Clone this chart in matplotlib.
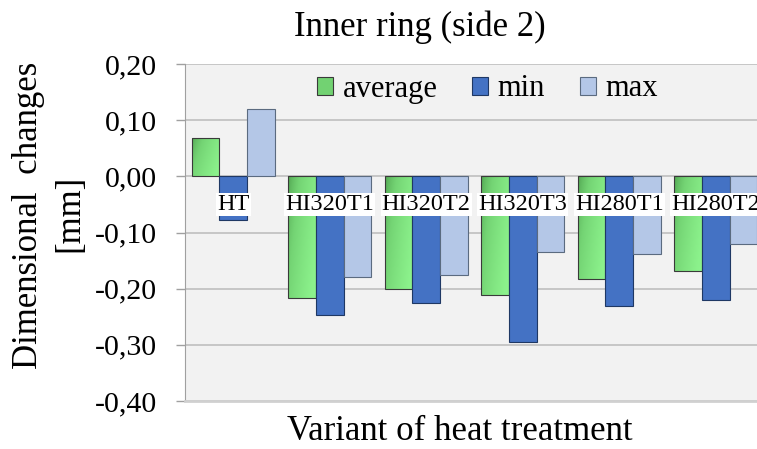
import matplotlib.pyplot as plt
import numpy as np
from matplotlib.colors import LinearSegmentedColormap
from matplotlib.patches import Patch

categories = ['HT', 'HI320T1', 'HI320T2', 'HI320T3', 'HI280T1', 'HI280T2']
average = [0.068, -0.216, -0.201, -0.211, -0.182, -0.168]
minimum = [-0.078, -0.246, -0.225, -0.295, -0.230, -0.220]
maximum = [0.120, -0.180, -0.175, -0.134, -0.139, -0.120]
yticks = [0.20, 0.10, 0.00, -0.10, -0.20, -0.30, -0.40]

plt.rcParams['font.family'] = ['Liberation Serif', 'DejaVu Serif']

fig = plt.figure(figsize=(7.57, 4.49), dpi=100)
# plot area runs a bit past the right edge, like in the original
ax = fig.add_axes([185/757, 48/449, 579/757, 337/449])
ax.set_facecolor('#f2f2f2')

x = np.arange(len(categories))
w = 0.285

bars_avg = ax.bar(x - w, average, w, facecolor='none', edgecolor='#3a3a3a', linewidth=0.8, zorder=3)
ax.bar(x, minimum, w, color='#4472c4', edgecolor='#1f3864', linewidth=0.8, zorder=3)
ax.bar(x + w, maximum, w, color='#b4c7e7', edgecolor='#5b6b80', linewidth=0.8, zorder=3)

# green gradient fill (dark top-left -> light right)
cmap = LinearSegmentedColormap.from_list('grn', ['#4c9e4c', '#74d474', '#8cf28c'])
for b in bars_avg:
    x0, y0, bw, bh = b.get_x(), b.get_y(), b.get_width(), b.get_height()
    u = np.linspace(0, 1, 60)[None, :]
    v = np.linspace(0, 1, 60)[:, None]
    grad = np.clip(0.75 * u + 0.35 * v, 0, 1) ** 0.6
    im = ax.imshow(grad, extent=(x0, x0 + bw, min(y0, y0 + bh), max(y0, y0 + bh)),
                   origin='upper', cmap=cmap, aspect='auto', zorder=2.9, vmin=0, vmax=1)
    im.set_clip_path(b)

for i, cat in enumerate(categories):
    ax.text(i, -0.0498, cat, ha='center', va='center', fontsize=17.5, zorder=5,
            bbox=dict(boxstyle='square,pad=0.05', fc='white', ec='none'))

ax.set_xlim(-0.5, 5.5)
ax.set_ylim(-0.40, 0.20)
ax.set_yticks(yticks)
ax.set_yticklabels([f'{v:.2f}'.replace('.', ',') for v in yticks], fontsize=21.5)
ax.set_xticks([])
ax.tick_params(axis='y', length=6.5, width=1, color='#a0a0a0', pad=13.5)
ax.yaxis.grid(True, color='#bfbfbf', linewidth=1.2)
ax.set_axisbelow(True)

ax.spines['top'].set_visible(False)
ax.spines['right'].set_visible(False)
ax.spines['left'].set_color('#a0a0a0')
ax.spines['bottom'].set_color('#d0d0d0')
ax.spines['bottom'].set_linewidth(2)

handles = [Patch(facecolor='#72d272', edgecolor='#3a3a3a', linewidth=0.8),
           Patch(facecolor='#4472c4', edgecolor='#1f3864', linewidth=0.8),
           Patch(facecolor='#b4c7e7', edgecolor='#5b6b80', linewidth=0.8)]
ax.legend(handles, ['average', 'min', 'max'], ncol=3, loc='center',
          bbox_to_anchor=(487.5/757, 1 - 89/449), bbox_transform=fig.transFigure,
          frameon=False, fontsize=22, handlelength=0.52, handleheight=0.52,
          handletextpad=0.3, columnspacing=1.15, borderpad=0)

fig.text(420/757, 1 - 27/449, 'Inner ring (side 2)', ha='center', va='center', fontsize=25)
fig.text(460/757, 1 - 432/449, 'Variant of heat treatment', ha='center', va='center', fontsize=25)
fig.text(29/757, 1 - 215/449, 'Dimensional  changes', rotation=90, ha='center', va='center', fontsize=25)
fig.text(70/757, 1 - 213/449, '[mm]', rotation=90, ha='center', va='center', fontsize=25)

fig.savefig('out.png', dpi=100)
